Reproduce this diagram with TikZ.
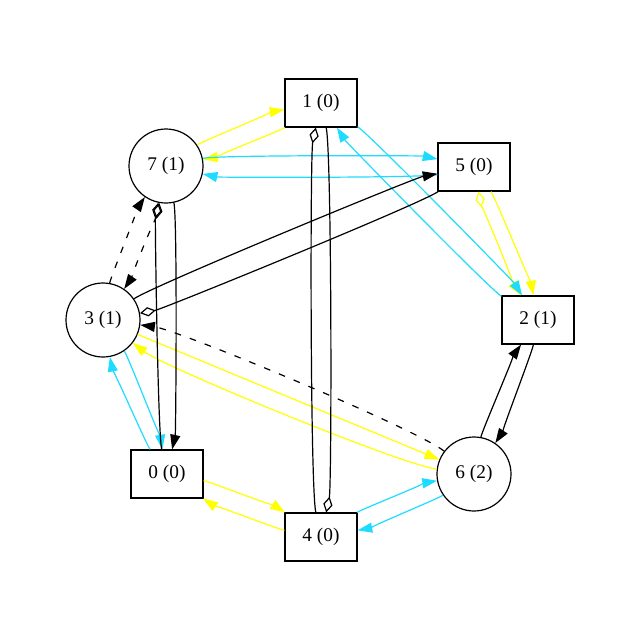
\documentclass[tikz,border=0pt]{standalone}
\usepackage{fontspec}
\setmainfont{Liberation Serif}
\usetikzlibrary{arrows.meta}
\definecolor{skycyan}{RGB}{30,220,255}
\definecolor{lemon}{RGB}{255,255,0}
\begin{document}
\begin{tikzpicture}[x=0.75pt, y=-0.75pt]
	\tikzstyle{Box} = [rectangle, minimum width=54pt, minimum height=36pt, inner sep=0pt, text centered, draw=black, line width=0.9pt, font=\fontsize{14.5}{17}\selectfont]
	\tikzstyle{Ring} = [circle, minimum size=55.5pt, inner sep=0pt, text centered, draw=black, line width=0.9pt, font=\fontsize{14.5}{17}\selectfont]
	\tikzstyle{arrow} = [line width=0.9pt, -{Triangle[length=11pt, width=7.5pt]}]
	\tikzstyle{dia} = [line width=0.9pt, -{Diamond[open, length=12pt, width=7pt]}]
	\tikzstyle{diaarrow} = [line width=0.9pt, {Diamond[open, length=12pt, width=7pt]}-{Triangle[length=11pt, width=7.5pt]}]
	\tikzstyle{pair} = [bend left=12, looseness=0.18]
	\tikzstyle{dashline} = [dash pattern=on 5pt off 7pt]

	\useasboundingbox (0,0) rectangle (640,640);

	% nodes on the ring
	\node (n1) [Box] at (321,103) {1 (0)};
	\node (n5) [Box] at (474,167) {5 (0)};
	\node (n2) [Box] at (538,320) {2 (1)};
	\node (n6) [Ring] at (474,474) {6 (2)};
	\node (n4) [Box] at (321,537) {4 (0)};
	\node (n0) [Box] at (167,474) {0 (0)};
	\node (n3) [Ring] at (103,320) {3 (1)};
	\node (n7) [Ring] at (166,166) {7 (1)};

	% yellow
	\path[lemon]
	(n7) edge[arrow, pair] (n1)
	(n1) edge[arrow, pair] (n7)
	(n5) edge[arrow, pair] (n2)
	(n5) edge[diaarrow, bend right=12, looseness=0.18] (n2)
	(n3) edge[arrow] (n6)
	(n6) edge[arrow, bend left=15, looseness=0.3] (n3)
	(n0) edge[arrow, pair] (n4)
	(n4) edge[arrow, pair] (n0);

	% cyan
	\path[skycyan]
	(n7) edge[arrow, pair] (n5)
	(n5) edge[arrow, pair] (n7)
	(n1) edge[arrow, pair] (n2)
	(n2) edge[arrow, pair] (n1)
	(n0) edge[arrow, pair] (n3)
	(n3) edge[arrow, pair] (n0)
	(n4) edge[arrow, pair] (n6)
	(n6) edge[arrow, pair] (n4);

	% black
	\path[black]
	(n1) edge[dia, pair] (n4)
	(n4) edge[dia, pair] (n1)
	(n3) edge[arrow, pair, dashline] (n7)
	(n7) edge[diaarrow, pair, dashline] (n3)
	(n3) edge[arrow, pair] (n5)
	(n5) edge[dia, pair] (n3)
	(n7) edge[arrow, pair] (n0)
	(n0) edge[dia, pair] (n7)
	(n6) edge[arrow, bend right=15, looseness=0.3, dashline] (n3)
	(n6) edge[arrow, pair] (n2)
	(n2) edge[arrow, pair] (n6);
\end{tikzpicture}
\end{document}
